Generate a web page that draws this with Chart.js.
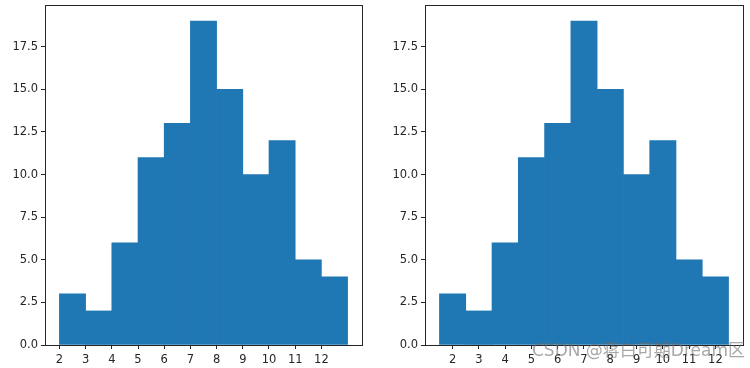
<!DOCTYPE html>
<html><head><meta charset="utf-8">
<script src="https://cdn.jsdelivr.net/npm/chart.js@4/dist/chart.umd.min.js"></script>
<style>
html,body{margin:0;padding:0;background:#fff;width:750px;height:368px;overflow:hidden}
.box{position:absolute;top:0;width:375px;height:368px}
#wm{position:absolute;left:532px;top:336px;font-family:"DejaVu Sans","Noto Sans CJK SC",sans-serif;font-size:17px;color:rgba(110,110,110,0.6);white-space:nowrap;pointer-events:none}
</style></head>
<body>
<div class="box" style="left:0"><canvas id="c1" width="375" height="368"></canvas></div>
<div class="box" style="left:375px"><canvas id="c2" width="375" height="368"></canvas></div>
<div id="wm">CSDN @蒋白可期Dream区</div>
<script>
// histogram counts per bin (bins of width 1)
const counts = [3, 2, 6, 11, 13, 19, 15, 10, 12, 5, 4];
const leftBinStarts = [2, 3, 4, 5, 6, 7, 8, 9, 10, 11, 12];   // left: bins [n, n+1)
const rightBinCenters = [2, 3, 4, 5, 6, 7, 8, 9, 10, 11, 12]; // right: bins centred on n
const xTickLabels = [2, 3, 4, 5, 6, 7, 8, 9, 10, 11, 12];
const yTicks = [0, 2.5, 5, 7.5, 10, 12.5, 15, 17.5];

const BLUE = '#1f77b4';
const FONT = {family: 'DejaVu Sans', size: 11.5};

const frame = {
  id: 'frame',
  afterDraw(chart) {
    const a = chart.chartArea, ctx = chart.ctx;
    ctx.save();
    ctx.strokeStyle = '#262626';
    ctx.lineWidth = 1;
    ctx.strokeRect(Math.round(a.left) + 0.5, Math.round(a.top) + 0.5,
      Math.round(a.right - a.left), Math.round(a.bottom - a.top));
    ctx.restore();
  }
};

function makeChart(id, centers, yAxisWidth, padRight) {
  const lo = Math.min(...centers) - 0.5, hi = Math.max(...centers) + 0.5;
  const margin = (hi - lo) * 0.05;
  const ymax = Math.max(...counts) * 1.05;
  return new Chart(document.getElementById(id), {
    type: 'bar',
    data: {
      datasets: [{
        data: centers.map((c, i) => ({x: c, y: counts[i]})),
        backgroundColor: BLUE,
        borderWidth: 0,
        barPercentage: 1,
        categoryPercentage: 1
      }]
    },
    plugins: [frame],
    options: {
      responsive: false,
      animation: false,
      layout: {padding: {top: 5, right: padRight, left: 0, bottom: 0}},
      plugins: {legend: {display: false}, tooltip: {enabled: false}},
      scales: {
        x: {
          type: 'linear',
          offset: false,
          min: lo - margin, max: hi + margin,
          afterBuildTicks: s => { s.ticks = xTickLabels.map(v => ({value: v})); },
          afterFit: s => { s.height = 23; s.paddingLeft = 0; s.paddingRight = 0; },
          grid: {drawOnChartArea: false, drawTicks: true, tickLength: 4, color: '#262626', offset: false},
          border: {display: false},
          ticks: {color: '#262626', font: FONT, padding: 4, maxRotation: 0, autoSkip: false,
                  callback: v => String(v)}
        },
        y: {
          min: 0, max: ymax,
          afterBuildTicks: s => { s.ticks = yTicks.map(v => ({value: v})); },
          afterFit: s => { s.width = yAxisWidth; s.paddingTop = 0; s.paddingBottom = 0; },
          grid: {drawOnChartArea: false, drawTicks: true, tickLength: 4, color: '#262626'},
          border: {display: false},
          ticks: {color: '#262626', font: FONT, padding: 3, callback: v => v.toFixed(1)}
        }
      }
    }
  });
}

makeChart('c1', leftBinStarts.map(s => s + 0.5), 45, 13);
makeChart('c2', rightBinCenters, 50, 7);
</script>
</body></html>
